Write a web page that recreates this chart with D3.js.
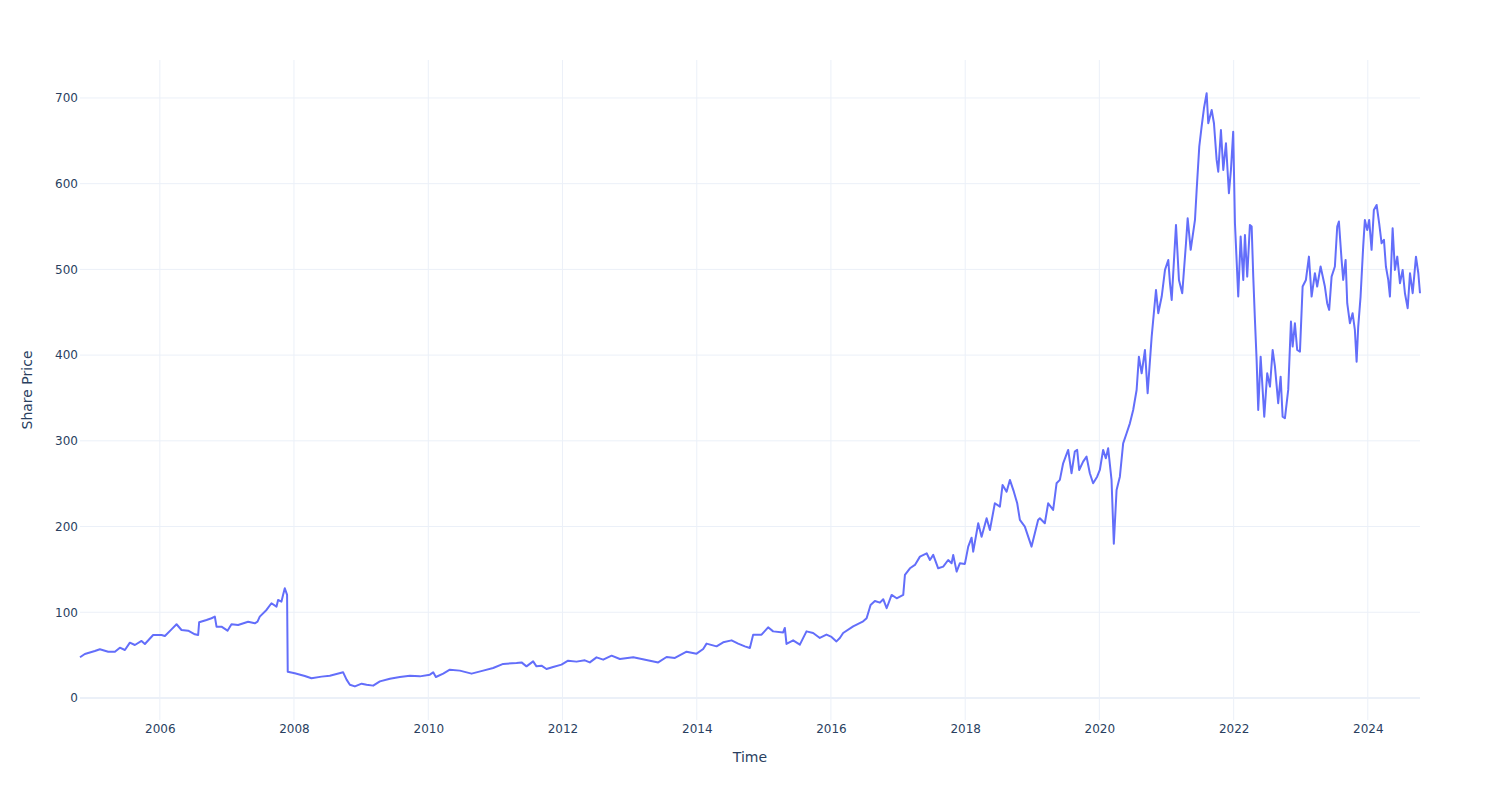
<!DOCTYPE html>
<html>
<head>
<meta charset="utf-8">
<script src="https://cdn.jsdelivr.net/npm/d3@7"></script>
<style>
  html, body { margin: 0; padding: 0; background: #fff; }
  svg { display: block; }
  text { font-family: "DejaVu Sans", Verdana, Arial, sans-serif; fill: #2a3f5f; }
</style>
</head>
<body>
<svg id="chart" width="1500" height="800"></svg>
<script>
// ---- Data ----
// Time as decimal year, share price as value
const years = [
  2004.81, 2004.882, 2005.031, 2005.106, 2005.230, 2005.330, 2005.404, 2005.479, 2005.553, 2005.628,
  2005.727, 2005.777, 2005.900, 2006.025, 2006.075, 2006.174, 2006.249, 2006.323, 2006.422, 2006.522,
  2006.571, 2006.586, 2006.696, 2006.770, 2006.820, 2006.845, 2006.919, 2007.009, 2007.068, 2007.167,
  2007.316, 2007.416, 2007.456, 2007.490, 2007.590, 2007.664, 2007.739, 2007.763, 2007.813, 2007.837,
  2007.863, 2007.897, 2007.907, 2008.012, 2008.161, 2008.260, 2008.410, 2008.533, 2008.731, 2008.782,
  2008.831, 2008.906, 2009.006, 2009.080, 2009.178, 2009.278, 2009.427, 2009.576, 2009.725, 2009.874,
  2010.023, 2010.073, 2010.113, 2010.222, 2010.321, 2010.470, 2010.645, 2010.818, 2010.967, 2011.116,
  2011.315, 2011.390, 2011.464, 2011.563, 2011.613, 2011.688, 2011.762, 2011.861, 2011.986, 2012.084,
  2012.209, 2012.333, 2012.407, 2012.507, 2012.606, 2012.731, 2012.854, 2013.053, 2013.178, 2013.302,
  2013.425, 2013.550, 2013.674, 2013.848, 2013.997, 2014.096, 2014.146, 2014.295, 2014.394, 2014.519,
  2014.617, 2014.717, 2014.792, 2014.841, 2014.966, 2015.064, 2015.139, 2015.288, 2015.313, 2015.338,
  2015.437, 2015.537, 2015.636, 2015.735, 2015.835, 2015.934, 2016.009, 2016.083, 2016.133, 2016.182,
  2016.331, 2016.480, 2016.531, 2016.590, 2016.654, 2016.729, 2016.778, 2016.829, 2016.903, 2016.978,
  2017.076, 2017.101, 2017.176, 2017.250, 2017.325, 2017.425, 2017.474, 2017.523, 2017.597, 2017.672,
  2017.746, 2017.797, 2017.821, 2017.872, 2017.921, 2017.995, 2018.045, 2018.095, 2018.119, 2018.194,
  2018.244, 2018.319, 2018.368, 2018.442, 2018.517, 2018.557, 2018.617, 2018.666, 2018.725, 2018.775,
  2018.815, 2018.889, 2018.989, 2019.038, 2019.087, 2019.113, 2019.187, 2019.237, 2019.311, 2019.362,
  2019.411, 2019.460, 2019.535, 2019.585, 2019.634, 2019.669, 2019.699, 2019.758, 2019.809, 2019.858,
  2019.907, 2019.967, 2020.007, 2020.056, 2020.096, 2020.131, 2020.181, 2020.215,
  2020.256, 2020.305, 2020.354, 2020.405, 2020.454, 2020.503, 2020.554, 2020.588,
  2020.629, 2020.678, 2020.718, 2020.778, 2020.842, 2020.876, 2020.927, 2020.976, 2021.025, 2021.050,
  2021.076, 2021.140, 2021.184, 2021.233, 2021.289, 2021.314, 2021.359, 2021.423, 2021.448, 2021.487,
  2021.522, 2021.557, 2021.597, 2021.621, 2021.672, 2021.706, 2021.746, 2021.770, 2021.810, 2021.845,
  2021.885, 2021.929, 2021.959, 2021.993, 2022.019, 2022.068, 2022.104, 2022.143, 2022.168, 2022.202,
  2022.242, 2022.268, 2022.292, 2022.317, 2022.342, 2022.366, 2022.402, 2022.426, 2022.456, 2022.500,
  2022.541, 2022.581, 2022.615, 2022.664, 2022.700, 2022.730, 2022.764, 2022.813, 2022.854, 2022.879,
  2022.913, 2022.947, 2022.988, 2023.028, 2023.077, 2023.122, 2023.162, 2023.211, 2023.245, 2023.296,
  2023.360, 2023.394, 2023.424, 2023.460, 2023.509, 2023.544, 2023.569, 2023.609, 2023.633, 2023.669,
  2023.693, 2023.733, 2023.773, 2023.807, 2023.833, 2023.857, 2023.892, 2023.931, 2023.956, 2023.991,
  2024.020, 2024.056, 2024.090, 2024.131, 2024.169, 2024.205, 2024.240, 2024.269, 2024.304, 2024.329,
  2024.369, 2024.403, 2024.438, 2024.478, 2024.518, 2024.552, 2024.593, 2024.627, 2024.667, 2024.716,
  2024.751, 2024.776
];
const prices = [
  47.5, 51.3, 54.8, 56.8, 54, 54, 58.7, 56, 64.5, 61.8,
  66.5, 63, 73.5, 73.5, 72.3, 80, 86, 79.3, 78.5, 74.3,
  73.5, 88.3, 91, 93, 94.9, 83.2, 83.2, 78.5, 86, 85.2,
  89, 87.1, 89, 94.9, 102.7, 110.5, 106.5, 114.3, 112.4, 120.2,
  128, 120.2, 30.7, 28.8, 25.7, 23, 24.9, 26, 29.9, 21.4,
  15.5, 13.5, 16.7, 15.5, 14.4, 19.4, 22.5, 24.5, 26, 25.2,
  27.2, 29.9, 24.5, 28.4, 33, 31.9, 28.4, 31.9, 35, 39.7,
  40.8, 41.5, 36.9, 42.7, 36.9, 37.7, 33.8, 36.2, 38.9, 43.5,
  42.4, 43.9, 41.5, 47.4, 44.7, 49.4, 45.5, 47.4, 45.5, 43.5,
  41.5, 47.8, 46.7, 54, 51.7, 57.2, 63.4, 60.2, 64.9, 67.2,
  63.4, 60.2, 58.3, 73.9, 73.9, 82.4, 77.7, 76.5, 81.7, 63,
  67.2, 62.2, 77.7, 75.8, 70, 73.9, 71.2, 66, 70, 75.8,
  83.6, 89.4, 93, 108.5, 113.2, 111.2, 115.2, 104.7, 120.2, 116.3,
  120.2, 143.5, 151.3, 155.2, 164.9, 168.8, 161, 166.9, 151.3, 153.2,
  161, 157.2, 166.9, 147.4, 157.2, 156.4, 176.6, 187, 170.7, 203.8,
  188.2, 209.7, 196, 227.2, 223.2, 248.5, 240.7, 254.4, 240.7, 227.2,
  207.7, 199.9, 176.6, 192.2, 207.7, 209.7, 203.8, 227.2, 219.4, 250.5,
  254.4, 273.8, 289.4, 262.2, 287.5, 289.4, 266, 275.7, 281.6, 262.2,
  250.5, 258.2, 266, 289.4, 279.7, 291.3, 254.4, 180,
  242.6, 258.2, 297, 308.8, 320.4, 336, 359.3, 398.2,
  378.8, 406, 355.6, 421.6, 476, 448.9, 468.3, 499.4, 511, 483.9,
  464.4, 551.9, 487.7, 472.2, 530.5, 559.7, 522.8, 557.7, 592.7, 643.3,
  666.6, 688, 705.5, 670.5, 686, 670.5, 627.7, 614, 662.7, 616,
  647.2, 588.8, 616, 660.7, 553.8, 468.3, 538.3, 487.7, 540.2, 491.6,
  551.9, 550, 491.6, 441, 394.4, 336, 398.2, 367.2, 328.2, 378.8,
  363.2, 406, 386.9, 343.9, 374.9, 328.2, 326.3, 359.4, 439.1, 410,
  437.2, 406, 404.1, 480, 487.7, 514.9, 468.3, 495.5, 480, 503.4,
  480, 460.6, 452.8, 491.6, 503.4, 550, 555.8, 511.1, 487.7, 511.1,
  460.6, 437.2, 448.9, 429.4, 392.4, 433.3, 468.3, 526.6, 557.7, 546,
  557.7, 522.8, 569.4, 575.2, 553.8, 530.5, 534.4, 503.4, 487.7, 468.3,
  548, 499.4, 514.9, 483.9, 499.4, 472.2, 454.7, 495.5, 472.2, 514.9,
  495.5, 472.2
];
const yTickValues = [0, 100, 200, 300, 400, 500, 600, 700];
const xTickYears = [2006, 2008, 2010, 2012, 2014, 2016, 2018, 2020, 2022, 2024];
const xTitle = "Time";
const yTitle = "Share Price";

// ---- Helpers ----
function decYearToDate(y) {
  const yr = Math.floor(y);
  const start = Date.UTC(yr, 0, 1), end = Date.UTC(yr + 1, 0, 1);
  return new Date(start + (y - yr) * (end - start));
}
const data = years.map((y, i) => ({ date: decYearToDate(y), value: prices[i] }));

// ---- Layout ----
const W = 1500, H = 800;
const margin = { left: 80, right: 80, top: 60, bottom: 80 };
const x0 = margin.left, x1 = W - margin.right, y0 = margin.top, y1 = H - margin.bottom;

const svg = d3.select("#chart");

const x = d3.scaleUtc()
  .domain(d3.extent(data, d => d.date))
  .range([x0, x1]);
const y = d3.scaleLinear()
  .domain([-25.7, 744.3])
  .range([y1, y0]);

const gridColor = "#EBF0F8";

// vertical grid
const xTicks = xTickYears.map(yr => new Date(Date.UTC(yr, 0, 1)));
svg.append("g").selectAll("line").data(xTicks).join("line")
  .attr("x1", d => x(d)).attr("x2", d => x(d))
  .attr("y1", y0).attr("y2", y1)
  .attr("stroke", gridColor).attr("stroke-width", 1);

// horizontal grid
svg.append("g").selectAll("line").data(yTickValues.filter(v => v !== 0)).join("line")
  .attr("x1", x0).attr("x2", x1)
  .attr("y1", d => y(d)).attr("y2", d => y(d))
  .attr("stroke", gridColor).attr("stroke-width", 1);

// zero line
svg.append("line")
  .attr("x1", x0).attr("x2", x1)
  .attr("y1", y(0)).attr("y2", y(0))
  .attr("stroke", gridColor).attr("stroke-width", 2);

// axes labels using d3 axes (no domain/ticks lines)
const xAxis = d3.axisBottom(x).tickValues(xTicks).tickFormat(d3.utcFormat("%Y")).tickSize(0).tickPadding(0);
const gx = svg.append("g").attr("transform", `translate(0,${y1})`).call(xAxis);
gx.select(".domain").remove();
gx.selectAll("text").attr("font-size", 12).attr("fill", "#2a3f5f")
  .attr("font-family", '"DejaVu Sans", Verdana, sans-serif')
  .attr("dy", null).attr("y", 13);

const yAxis = d3.axisLeft(y).tickValues(yTickValues).tickFormat(d3.format("d")).tickSize(0).tickPadding(2);
const gy = svg.append("g").attr("transform", `translate(${x0},0)`).call(yAxis);
gy.select(".domain").remove();
gy.selectAll("text").attr("font-size", 12).attr("fill", "#2a3f5f")
  .attr("font-family", '"DejaVu Sans", Verdana, sans-serif');

// line
const line = d3.line().x(d => x(d.date)).y(d => y(d.value));
svg.append("path")
  .datum(data)
  .attr("d", line)
  .attr("fill", "none")
  .attr("stroke", "#636efa")
  .attr("stroke-width", 2)
  .attr("stroke-linejoin", "round");

// axis titles
svg.append("text")
  .attr("x", (x0 + x1) / 2).attr("y", 761.5)
  .attr("text-anchor", "middle").attr("font-size", 14)
  .text(xTitle);
svg.append("text")
  .attr("transform", `translate(32,${(y0 + y1) / 2}) rotate(-90)`)
  .attr("text-anchor", "middle").attr("font-size", 14)
  .text(yTitle);
</script>
</body>
</html>
